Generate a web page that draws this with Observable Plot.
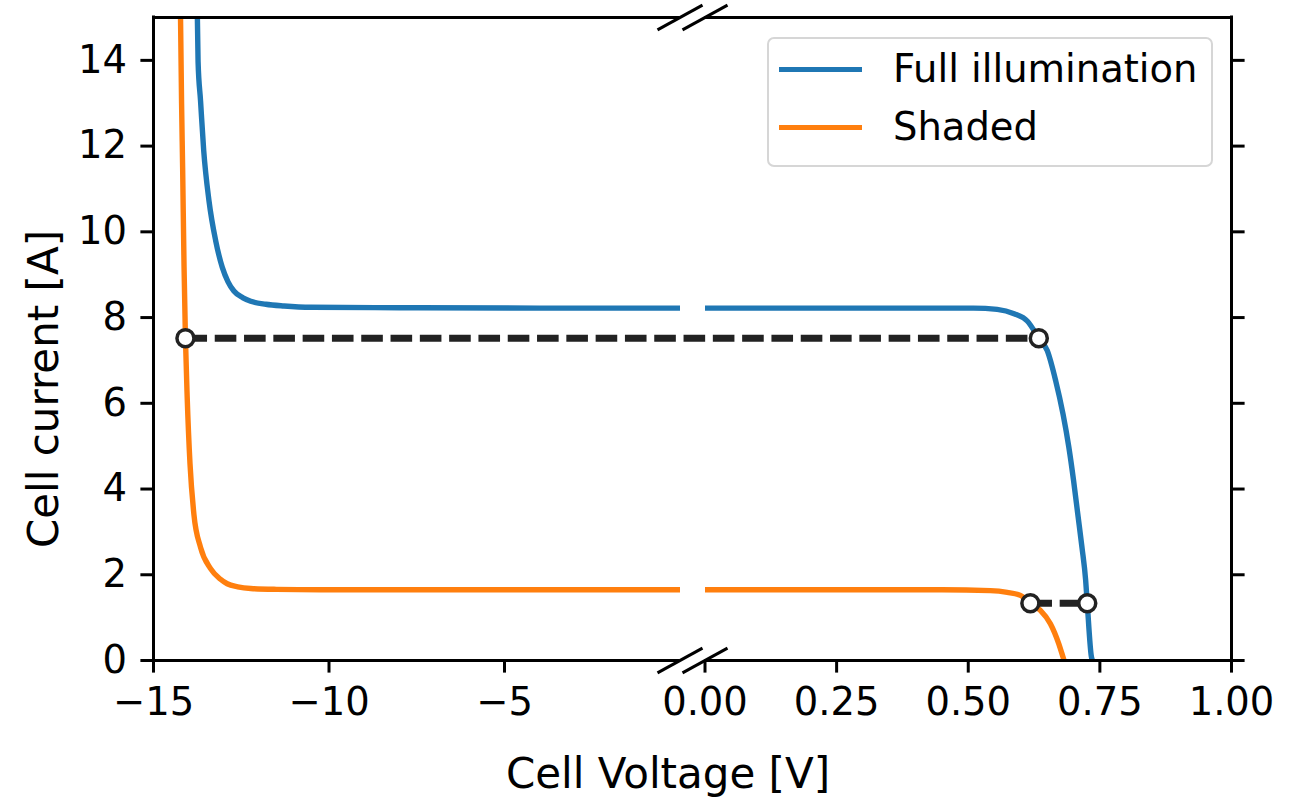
<!DOCTYPE html>
<html>
<head>
<meta charset="utf-8">
<script src="https://cdn.jsdelivr.net/npm/d3@7"></script>
<script src="https://cdn.jsdelivr.net/npm/@observablehq/plot@0.6"></script>
<style>
  html, body { margin: 0; padding: 0; background: #fff; }
  #wrap { position: relative; width: 1291px; height: 808px; font-family: "DejaVu Sans", sans-serif; }
  #legend { position: absolute; left: 767px; top: 37px; width: 442px; height: 126px;
            border: 2px solid #d6d6d6; border-radius: 7px; background: rgba(255,255,255,0.8); }
  .swatch { position: absolute; left: 10px; width: 83px; height: 5px; }
  .lab { position: absolute; left: 124px; font-size: 38.5px; line-height: 1; white-space: nowrap; color: #000; }
</style>
</head>
<body>
<div id="wrap"></div>
<script>
// ---------------- data ----------------
const seriesNames  = ["Full illumination", "Shaded"];
const seriesColors = ["#1f77b4", "#ff7f0e"];

// Full illumination, reverse-bias panel (V in [-15, 0])
const fullLeftV  = [-13.75, -13.73, -13.66, -13.57, -13.42, -13.23, -13.04, -12.88, -12.71, -12.45, -12.23, -11.8, -11.28, -10.5, -8, -4, 0];
const fullLeftI  = [15.0, 13.97, 13.06, 11.9, 10.73, 9.8, 9.17, 8.84, 8.62, 8.46, 8.38, 8.31, 8.27, 8.24, 8.23, 8.22, 8.22];
// Full illumination, forward panel (V in [0, 1])
const fullRightV = [0, 0.25, 0.447, 0.51, 0.555, 0.587, 0.612, 0.634, 0.650, 0.666, 0.680, 0.691, 0.700, 0.708, 0.716, 0.723, 0.726, 0.734, 0.736];
const fullRightI = [8.22, 8.22, 8.22, 8.22, 8.19, 8.09, 7.92, 7.52, 7.23, 6.53, 5.75, 4.98, 4.20, 3.42, 2.64, 1.87, 1.34, 0.08, 0];

// Shaded, reverse-bias panel
const shadedLeftV  = [-14.23, -14.2, -14.17, -14.13, -14.09, -14.04, -13.96, -13.85, -13.66, -13.38, -13.1, -12.9, -12.6, -12.23, -11.5, -10.24, -5, 0];
const shadedLeftI  = [15.0, 13.0, 11.5, 9.2, 7.52, 6.14, 4.59, 3.42, 2.64, 2.15, 1.9, 1.79, 1.72, 1.68, 1.66, 1.65, 1.65, 1.65];
// Shaded, forward panel
const shadedRightV = [0, 0.25, 0.45, 0.542, 0.574, 0.599, 0.618, 0.637, 0.656, 0.672, 0.680, 0.682];
const shadedRightI = [1.65, 1.65, 1.65, 1.63, 1.59, 1.52, 1.337, 1.17, 0.86, 0.39, 0.08, 0];

// Operating-point markers and the dashed connectors between them
const markerV    = [-14.09, 0.634, 0.618, 0.726];
const markerI    = [7.52, 7.52, 1.337, 1.337];
const markerSide = ["L", "R", "R", "R"];
const connectors = [[0, 1], [2, 3]];

// Axes
const leftDomain  = [-15, 0];
const rightDomain = [0, 1];
const yDomain     = [0, 15];
const leftTicks   = [-15, -10, -5];
const leftLabels  = ["\u221215", "\u221210", "\u22125"];
const rightTicks  = [0, 0.25, 0.5, 0.75, 1];
const rightLabels = ["0.00", "0.25", "0.50", "0.75", "1.00"];
const yTicks      = [0, 2, 4, 6, 8, 10, 12, 14];
const xLabel = "Cell Voltage [V]";
const yLabel = "Cell current [A]";

// ---------------- broken x axis: two panels on one linear scale ----------------
const GAP = 25 / 526.5; // gap between the two panels, as a fraction of one panel width
function U(side, v) {
  if (side === "L") return (v - leftDomain[0]) / (leftDomain[1] - leftDomain[0]);
  return 1 + GAP + (v - rightDomain[0]) / (rightDomain[1] - rightDomain[0]);
}
const uMax = U("R", rightDomain[1]);

const curves = [];
function addCurve(name, side, V, I) {
  V.forEach((v, k) => curves.push({u: U(side, v), i: I[k], series: name, key: name + side}));
}
addCurve(seriesNames[0], "L", fullLeftV, fullLeftI);
addCurve(seriesNames[0], "R", fullRightV, fullRightI);
addCurve(seriesNames[1], "L", shadedLeftV, shadedLeftI);
addCurve(seriesNames[1], "R", shadedRightV, shadedRightI);

const markers = markerV.map((v, k) => ({u: U(markerSide[k], v), i: markerI[k]}));
const dashRows = [];
connectors.forEach(([a, b], g) => { dashRows.push({...markers[a], g}); dashRows.push({...markers[b], g}); });

const xTicksU = [...leftTicks.map(t => U("L", t)), ...rightTicks.map(t => U("R", t))];
const xTickLabels = [...leftLabels, ...rightLabels];
const fmtX = u => { const k = xTicksU.findIndex(t => Math.abs(t - u) < 1e-9); return k < 0 ? "" : xTickLabels[k]; };

// spines (with the gap at the break)
const hSpines = [];
for (const y of yDomain) {
  hSpines.push({y, x1: U("L", leftDomain[0]), x2: U("L", leftDomain[1])});
  hSpines.push({y, x1: U("R", rightDomain[0]), x2: U("R", rightDomain[1])});
}
const vSpines = [{x: U("L", leftDomain[0])}, {x: U("R", rightDomain[1])}];
const breaks = [];
for (const y of yDomain) { breaks.push({u: U("L", leftDomain[1]), i: y}); breaks.push({u: U("R", rightDomain[0]), i: y}); }
const slash = { draw(ctx, size) { const r = Math.sqrt(size / Math.PI); ctx.moveTo(-r, r * 0.55); ctx.lineTo(r, -r * 0.55); } };

const FS = 38.5;
const chart = Plot.plot({
  width: 1291, height: 808,
  marginLeft: 153, marginRight: 60, marginTop: 17, marginBottom: 148,
  style: {fontFamily: "DejaVu Sans, sans-serif", fontSize: FS + "px", color: "#000", background: "white"},
  x: {type: "linear", domain: [0, uMax]},
  y: {domain: yDomain},
  color: {domain: seriesNames, range: seriesColors},
  marks: [
    Plot.line(curves, {x: "u", y: "i", z: "key", stroke: "series", strokeWidth: 5.4, curve: "monotone-x",
                       strokeLinecap: "butt", clip: true}),
    Plot.line(dashRows, {x: "u", y: "i", z: "g", stroke: "#222", strokeWidth: 7, strokeDasharray: "21.6 7.7",
                         strokeLinecap: "butt"}),
    Plot.dot(markers, {x: "u", y: "i", r: 8.5, fill: "white", stroke: "#222", strokeWidth: 3.5}),
    Plot.ruleY(hSpines, {y: "y", x1: "x1", x2: "x2", stroke: "#000", strokeWidth: 3, strokeLinecap: "butt"}),
    Plot.ruleX(vSpines, {x: "x", y1: yDomain[0], y2: yDomain[1], stroke: "#000", strokeWidth: 3, strokeLinecap: "square"}),
    Plot.dot(breaks, {x: "u", y: "i", r: 22.5, symbol: slash, fill: "none", stroke: "#000", strokeWidth: 3}),
    Plot.axisX({anchor: "bottom", ticks: xTicksU, tickFormat: fmtX, tickSize: 12.6, tickPadding: 15,
                strokeWidth: 3, fontSize: FS, label: null}),
    Plot.axisY({anchor: "left", ticks: yTicks, tickFormat: d => String(d), tickSize: 12.6, tickPadding: 14,
                strokeWidth: 3, fontSize: FS, label: null}),
    Plot.axisY({anchor: "right", ticks: yTicks, tickSize: 12.6, strokeWidth: 3, fill: "none", label: null}),
    Plot.text([xLabel], {frameAnchor: "bottom", textAnchor: "middle", dx: -24.5, dy: 98, lineAnchor: "top",
                         fontSize: 42, fill: "#000"}),
    Plot.text([yLabel], {frameAnchor: "left", textAnchor: "middle", rotate: -90, dx: -125, dy: 50, lineAnchor: "top",
                         fontSize: 42, fill: "#000"})
  ]
});

const wrap = document.getElementById("wrap");
wrap.appendChild(chart);

// legend (inside the axes, upper right)
const legend = document.createElement("div");
legend.id = "legend";
seriesNames.forEach((name, k) => {
  const cy = 30 + k * 58;
  const sw = document.createElement("div");
  sw.className = "swatch";
  sw.style.top = (cy - 2.5) + "px";
  sw.style.background = seriesColors[k];
  const lab = document.createElement("div");
  lab.className = "lab";
  lab.style.top = (cy - 18.6) + "px";
  lab.textContent = name;
  legend.appendChild(sw);
  legend.appendChild(lab);
});
wrap.appendChild(legend);
</script>
</body>
</html>
